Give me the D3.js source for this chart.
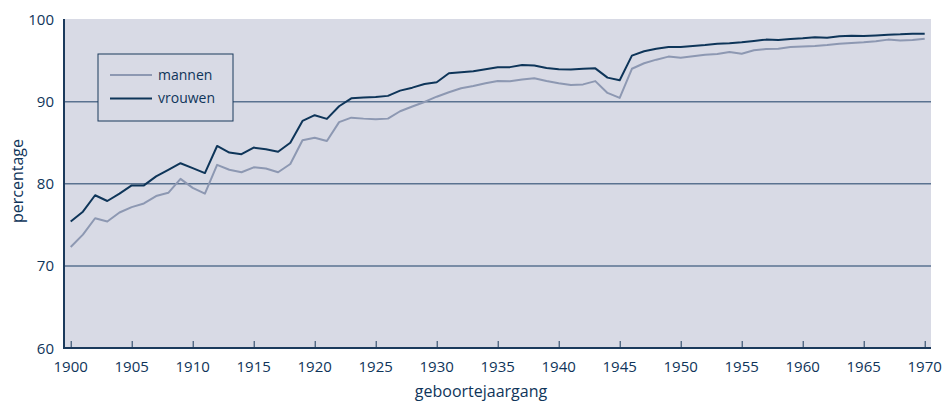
<!DOCTYPE html>
<html>
<head>
<meta charset="utf-8">
<script src="https://cdn.jsdelivr.net/npm/d3@7"></script>
<style>
  html, body { margin: 0; padding: 0; background: #fff; }
  svg { display: block; }
  text { font-family: "Open Sans", "DejaVu Sans", sans-serif; fill: #0f355a; }
</style>
</head>
<body>
<div id="chart"></div>
<script>
const years = d3.range(1900, 1971);

const mannen = [
  72.3, 73.8, 75.8, 75.4, 76.5, 77.15, 77.6, 78.5, 78.9, 80.6,
  79.5, 78.8, 82.3, 81.7, 81.4, 82.0, 81.85, 81.4, 82.4, 85.3,
  85.6, 85.2, 87.5, 88.05, 87.93, 87.86, 87.93, 88.83, 89.4, 89.96,
  90.6, 91.14, 91.63, 91.9, 92.24, 92.52, 92.48, 92.68, 92.85, 92.5,
  92.24, 92.03, 92.1, 92.5, 91.06, 90.45, 94.0, 94.67, 95.11, 95.48,
  95.35, 95.52, 95.72, 95.8, 96.05, 95.84, 96.25, 96.41, 96.45, 96.65,
  96.7, 96.78, 96.9, 97.06, 97.14, 97.22, 97.35, 97.55, 97.45, 97.5,
  97.67
];

const vrouwen = [
  75.4, 76.6, 78.6, 77.9, 78.8, 79.8, 79.8, 80.9, 81.7, 82.5,
  81.9, 81.3, 84.6, 83.8, 83.6, 84.4, 84.2, 83.9, 85.0, 87.65,
  88.35, 87.9, 89.44, 90.4, 90.5, 90.57, 90.7, 91.34, 91.7, 92.15,
  92.36, 93.45, 93.58, 93.7, 93.94, 94.18, 94.2, 94.46, 94.4, 94.1,
  93.94, 93.9, 94.0, 94.05, 92.92, 92.6, 95.6, 96.13, 96.45, 96.65,
  96.65, 96.78, 96.9, 97.06, 97.1, 97.22, 97.38, 97.55, 97.5, 97.63,
  97.71, 97.83, 97.77, 97.96, 98.03, 98.0, 98.06, 98.15, 98.19, 98.27,
  98.27
];

const xTicks = d3.range(1900, 1971, 5);
const yTicks = [60, 70, 80, 90, 100];
const gridTicks = [70, 80, 90];

const seriesNames = ['mannen', 'vrouwen'];
const seriesColors = ['#8d98b2', '#0e3559'];

const width = 943;
const height = 403;
const plot = { left: 64, right: 931, top: 19, bottom: 348 };

const svg = d3.select('#chart')
  .append('svg')
  .attr('width', width)
  .attr('height', height);

const x = d3.scaleLinear()
  .domain([1900, 1970])
  .range([70.7, 924.7]);

const y = d3.scaleLinear()
  .domain([60, 100])
  .range([348, 19.5]);

// plot background
svg.append('rect')
  .attr('x', plot.left)
  .attr('y', plot.top)
  .attr('width', plot.right - plot.left)
  .attr('height', plot.bottom - plot.top)
  .attr('fill', '#d8dae5');

// grid lines
svg.append('g')
  .selectAll('line')
  .data(gridTicks)
  .join('line')
  .attr('x1', plot.left)
  .attr('x2', plot.right)
  .attr('y1', (d) => y(d))
  .attr('y2', (d) => y(d))
  .attr('stroke', '#5a7290')
  .attr('stroke-width', 1.5);

// x axis: ticks pointing inward
const xAxis = (g) =>
  g
    .attr('transform', `translate(0, ${plot.bottom})`)
    .call(d3.axisTop(x).tickValues(xTicks).tickSize(7).tickFormat('').tickSizeOuter(0))
    .call((g) => g.select('.domain').remove())
    .call((g) => g.selectAll('.tick line').attr('stroke', '#1b3a5c').attr('stroke-width', 1));

svg.append('g').call(xAxis);

svg.append('g')
  .selectAll('text')
  .data(xTicks)
  .join('text')
  .attr('x', (d) => x(d))
  .attr('y', 372)
  .attr('text-anchor', 'middle')
  .attr('font-size', '15px')
  .text((d) => d);

// y labels
svg.append('g')
  .selectAll('text')
  .data(yTicks)
  .join('text')
  .attr('x', 54)
  .attr('y', (d) => y(d) + 5.5)
  .attr('text-anchor', 'end')
  .attr('font-size', '15px')
  .text((d) => d);

// axis lines
svg.append('line')
  .attr('x1', plot.left).attr('x2', plot.right)
  .attr('y1', plot.bottom).attr('y2', plot.bottom)
  .attr('stroke', '#1b3a5c').attr('stroke-width', 2);

svg.append('line')
  .attr('x1', plot.left).attr('x2', plot.left)
  .attr('y1', plot.top).attr('y2', plot.bottom + 1)
  .attr('stroke', '#1b3a5c').attr('stroke-width', 2);

// series
const line = d3.line()
  .x((d, i) => x(years[i]))
  .y((d) => y(d));

[mannen, vrouwen].forEach((s, i) => {
  svg.append('path')
    .datum(s)
    .attr('d', line)
    .attr('fill', 'none')
    .attr('stroke', seriesColors[i])
    .attr('stroke-width', 2)
    .attr('stroke-linejoin', 'round');
});

// legend
const legend = svg.append('g').attr('transform', 'translate(98, 54)');

legend.append('rect')
  .attr('width', 135)
  .attr('height', 67)
  .attr('fill', '#d8dae5')
  .attr('stroke', '#1b3a5c')
  .attr('stroke-width', 1);

seriesNames.forEach((name, i) => {
  const ly = 21 + i * 23.5;
  legend.append('line')
    .attr('x1', 12).attr('x2', 54)
    .attr('y1', ly).attr('y2', ly)
    .attr('stroke', seriesColors[i])
    .attr('stroke-width', 2);
  legend.append('text')
    .attr('x', 60)
    .attr('y', ly + 4.5)
    .attr('font-size', '14px')
    .text(name);
});

// axis titles
svg.append('text')
  .attr('x', 481)
  .attr('y', 397)
  .attr('text-anchor', 'middle')
  .attr('font-size', '16px')
  .text('geboortejaargang');

svg.append('text')
  .attr('transform', 'translate(23, 181) rotate(-90)')
  .attr('text-anchor', 'middle')
  .attr('font-size', '16px')
  .text('percentage');
</script>
</body>
</html>
